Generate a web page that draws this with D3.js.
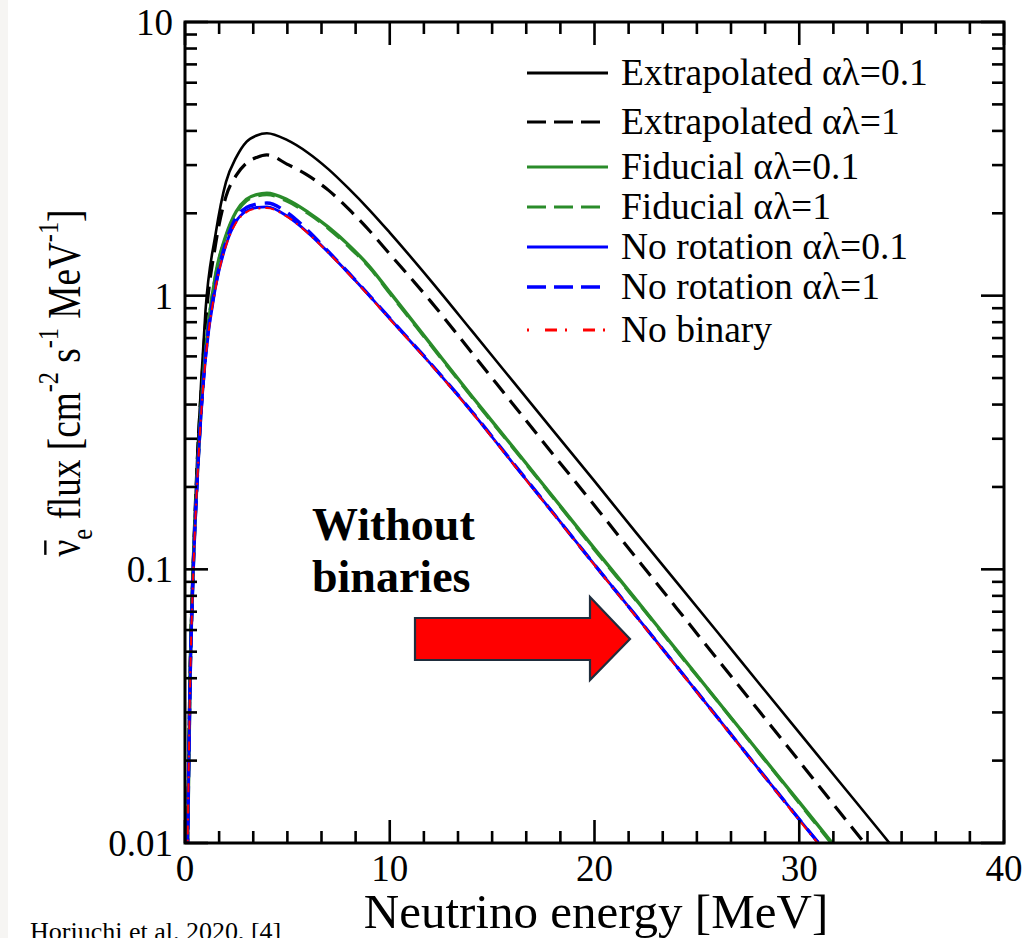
<!DOCTYPE html>
<html>
<head>
<meta charset="utf-8">
<script src="https://cdn.jsdelivr.net/npm/d3@7"></script>
<style>
  body { margin: 0; background: #fff; }
  svg { display: block; }
  text { font-family: "Liberation Serif", "Times New Roman", serif; fill: #000; }
</style>
</head>
<body>
<svg id="chart" width="1028" height="938"></svg>
<script>
// energies in MeV
const energy = [0.12, 0.25, 0.4, 0.6, 0.8, 1, 1.5, 2, 2.5, 3, 3.5, 4, 5, 6, 7, 8, 9, 10,
  12, 14, 16, 18, 20, 22, 24, 26, 28, 30, 32, 34, 35];

const extrap01 = [0.01, 0.045, 0.11, 0.26, 0.5, 0.88, 1.69, 2.6, 3.2, 3.65, 3.85, 3.92, 3.7, 3.33, 2.9, 2.46, 2.06, 1.7,
  1.135, 0.745, 0.488, 0.32, 0.21, 0.137, 0.09, 0.059, 0.0386, 0.0253, 0.0166, 0.0109, 0.0088];
const extrap1 = [0.0095, 0.043, 0.105, 0.25, 0.46, 0.78, 1.55, 2.3, 2.75, 3.05, 3.2, 3.27, 3.02, 2.75, 2.43, 2.07, 1.73, 1.42,
  0.953, 0.62, 0.403, 0.262, 0.171, 0.111, 0.0723, 0.047, 0.0306, 0.0199, 0.0129, 0.0084, 0.0068];
const fid01 = [0.009, 0.04, 0.1, 0.22, 0.4, 0.62, 1.2, 1.66, 2.03, 2.25, 2.34, 2.37, 2.24, 2.02, 1.78, 1.53, 1.28, 1.03,
  0.665, 0.43, 0.281, 0.183, 0.119, 0.078, 0.0508, 0.0331, 0.0216, 0.0141, 0.0092, 0.006, 0.0048];
const fid1 = [0.009, 0.04, 0.1, 0.22, 0.4, 0.62, 1.19, 1.64, 2.0, 2.22, 2.31, 2.34, 2.21, 2.0, 1.76, 1.51, 1.27, 1.02,
  0.66, 0.427, 0.279, 0.182, 0.118, 0.0775, 0.0505, 0.033, 0.0215, 0.014, 0.0091, 0.006, 0.0048];
const norot01 = [0.009, 0.038, 0.096, 0.212, 0.382, 0.585, 1.08, 1.53, 1.87, 2.04, 2.1, 2.11, 1.95, 1.7, 1.44, 1.205, 1.0, 0.825,
  0.563, 0.377, 0.245, 0.16, 0.104, 0.068, 0.0443, 0.0288, 0.0187, 0.0122, 0.008, 0.0052, 0.0042];
const norot1 = [0.009, 0.039, 0.098, 0.215, 0.39, 0.6, 1.1, 1.57, 1.93, 2.1, 2.16, 2.18, 2.01, 1.73, 1.45, 1.21, 1.003, 0.828,
  0.565, 0.378, 0.246, 0.16, 0.104, 0.068, 0.0443, 0.0288, 0.0187, 0.0122, 0.008, 0.0052, 0.0042];
const nobinary = [0.009, 0.038, 0.095, 0.21, 0.38, 0.58, 1.07, 1.52, 1.85, 2.02, 2.08, 2.09, 1.94, 1.69, 1.435, 1.2, 0.995, 0.82,
  0.56, 0.375, 0.244, 0.159, 0.1035, 0.0675, 0.044, 0.0286, 0.0186, 0.0121, 0.0079, 0.0051, 0.0041];

const xTicks = [0, 10, 20, 30, 40];
const yTicks = [0.01, 0.1, 1, 10];
const yTickLabels = ["0.01", "0.1", "1", "10"];

const series = [
  { label: "Extrapolated \u03b1\u03bb=0.1", values: extrap01, color: "#000", width: 2.6, dash: null },
  { label: "Extrapolated \u03b1\u03bb=1", values: extrap1, color: "#000", width: 3.2, dash: "17,9" },
  { label: "Fiducial \u03b1\u03bb=0.1", values: fid01, color: "#2a8c2a", width: 3.4, dash: null },
  { label: "Fiducial \u03b1\u03bb=1", values: fid1, color: "#2a8c2a", width: 3.2, dash: "17,9" },
  { label: "No rotation \u03b1\u03bb=0.1", values: norot01, color: "#0000ff", width: 2.8, dash: null },
  { label: "No rotation \u03b1\u03bb=1", values: norot1, color: "#0000ff", width: 3.4, dash: "17,9" },
  { label: "No binary", values: nobinary, color: "#ff0000", width: 2, dash: "9,5,2,5" },
];

const plot = { left: 185, right: 1004, top: 22, bottom: 843 };

const svg = d3.select("#chart");

// light strip on the left edge of the slide
svg.append("rect").attr("x", 0).attr("y", 0).attr("width", 8).attr("height", 938).attr("fill", "#f6f5f3");

const x = d3.scaleLinear().domain([0, 40]).range([plot.left, plot.right]);
const y = d3.scaleLog().domain([0.01, 10]).range([plot.bottom, plot.top]);

svg.append("defs").append("clipPath").attr("id", "plot-clip")
  .append("rect")
  .attr("x", plot.left).attr("y", plot.top)
  .attr("width", plot.right - plot.left).attr("height", plot.bottom - plot.top);

const line = d3.line()
  .x((d) => x(d[0]))
  .y((d) => y(d[1]))
  .curve(d3.curveMonotoneX);

const curves = svg.append("g").attr("clip-path", "url(#plot-clip)");
series.forEach((s) => {
  curves.append("path")
    .attr("d", line(energy.map((e, i) => [e, s.values[i]])))
    .attr("fill", "none")
    .attr("stroke", s.color)
    .attr("stroke-width", s.width)
    .attr("stroke-dasharray", s.dash)
    .attr("stroke-linejoin", "round");
});

// ticks on all four sides, pointing inward
const majorLen = 23, minorLen = 12;
const xMinor = d3.range(0, 40.001, 10 / 6);
const yMinor = [];
[0.01, 0.1, 1].forEach((dec) => { for (let k = 1; k <= 9; k++) yMinor.push(dec * k); });
yMinor.push(10);

const tickG = svg.append("g").attr("stroke", "#000").attr("stroke-width", 2.6);
xMinor.forEach((v) => {
  const isMajor = xTicks.some((t) => Math.abs(t - v) < 1e-6);
  const len = isMajor ? majorLen : minorLen;
  tickG.append("line").attr("x1", x(v)).attr("x2", x(v)).attr("y1", plot.bottom).attr("y2", plot.bottom - len);
  tickG.append("line").attr("x1", x(v)).attr("x2", x(v)).attr("y1", plot.top).attr("y2", plot.top + len);
});
yMinor.forEach((v) => {
  const isMajor = yTicks.some((t) => Math.abs(t - v) / t < 1e-6);
  const len = isMajor ? majorLen : minorLen;
  tickG.append("line").attr("x1", plot.left).attr("x2", plot.left + len).attr("y1", y(v)).attr("y2", y(v));
  tickG.append("line").attr("x1", plot.right).attr("x2", plot.right - len).attr("y1", y(v)).attr("y2", y(v));
});

svg.append("rect")
  .attr("x", plot.left).attr("y", plot.top)
  .attr("width", plot.right - plot.left).attr("height", plot.bottom - plot.top)
  .attr("fill", "none").attr("stroke", "#000").attr("stroke-width", 3);

// tick labels
svg.append("g").selectAll("text").data(xTicks).join("text")
  .attr("x", (d) => x(d)).attr("y", 881)
  .attr("text-anchor", "middle").attr("font-size", 37)
  .text((d) => d);
svg.append("g").selectAll("text").data(yTicks).join("text")
  .attr("x", 173).attr("y", (d) => y(d) + 13)
  .attr("text-anchor", "end").attr("font-size", 37)
  .text((d, i) => yTickLabels[i]);

// axis titles
svg.append("text")
  .attr("x", 596).attr("y", 928)
  .attr("text-anchor", "middle").attr("font-size", 49)
  .text("Neutrino energy [MeV]");

const yLab = svg.append("g").attr("transform", "translate(80,383) rotate(-90) scale(0.81,1)");
const yText = yLab.append("text").attr("text-anchor", "middle").attr("font-size", 46);
yText.append("tspan").text("\u03bd");
yText.append("tspan").attr("font-size", 30).attr("dy", 12).text("e");
yText.append("tspan").attr("dy", -12).text(" flux [cm");
yText.append("tspan").attr("font-size", 30).attr("dy", -22).text("-2");
yText.append("tspan").attr("dy", 22).text(" s");
yText.append("tspan").attr("font-size", 30).attr("dy", -22).text("-1");
yText.append("tspan").attr("dy", 22).text(" MeV");
yText.append("tspan").attr("font-size", 30).attr("dy", -22).text("-1");
yText.append("tspan").attr("dy", 22).text("]");
const nu = yText.node().getExtentOfChar(0);
yLab.append("line")
  .attr("x1", nu.x + 2).attr("x2", nu.x + nu.width - 1)
  .attr("y1", nu.y + 6).attr("y2", nu.y + 6)
  .attr("stroke", "#000").attr("stroke-width", 2.4);

// legend
const legend = svg.append("g");
const legendY = [73, 122, 167, 207, 247, 287, 330];
series.forEach((s, i) => {
  legend.append("line")
    .attr("x1", 527).attr("x2", 608)
    .attr("y1", legendY[i]).attr("y2", legendY[i])
    .attr("stroke", s.color)
    .attr("stroke-width", s.dash ? Math.max(s.width, 3) : 3)
    .attr("stroke-dasharray", s.dash ? (s.color === "#ff0000" ? "2,16,12,8,2,16,12,8" : "19,8") : null);
  legend.append("text")
    .attr("x", 621).attr("y", legendY[i] + 12)
    .attr("font-size", 37.5)
    .text(s.label);
});

// annotation
svg.append("text").attr("x", 312).attr("y", 540).attr("font-size", 46).attr("font-weight", "bold").text("Without");
svg.append("text").attr("x", 312).attr("y", 592).attr("font-size", 46).attr("font-weight", "bold").text("binaries");

const arrow = [[415, 618], [590, 618], [590, 597], [630, 639], [590, 680], [590, 660], [415, 660]];
svg.append("path")
  .attr("d", d3.line()(arrow) + "Z")
  .attr("fill", "#ff0000")
  .attr("stroke", "#1f2d3d")
  .attr("stroke-width", 2.2)
  .attr("stroke-linejoin", "miter");

svg.append("text").attr("x", 30).attr("y", 940).attr("font-size", 26).text("Horiuchi et al. 2020, [4]");
</script>
</body>
</html>
